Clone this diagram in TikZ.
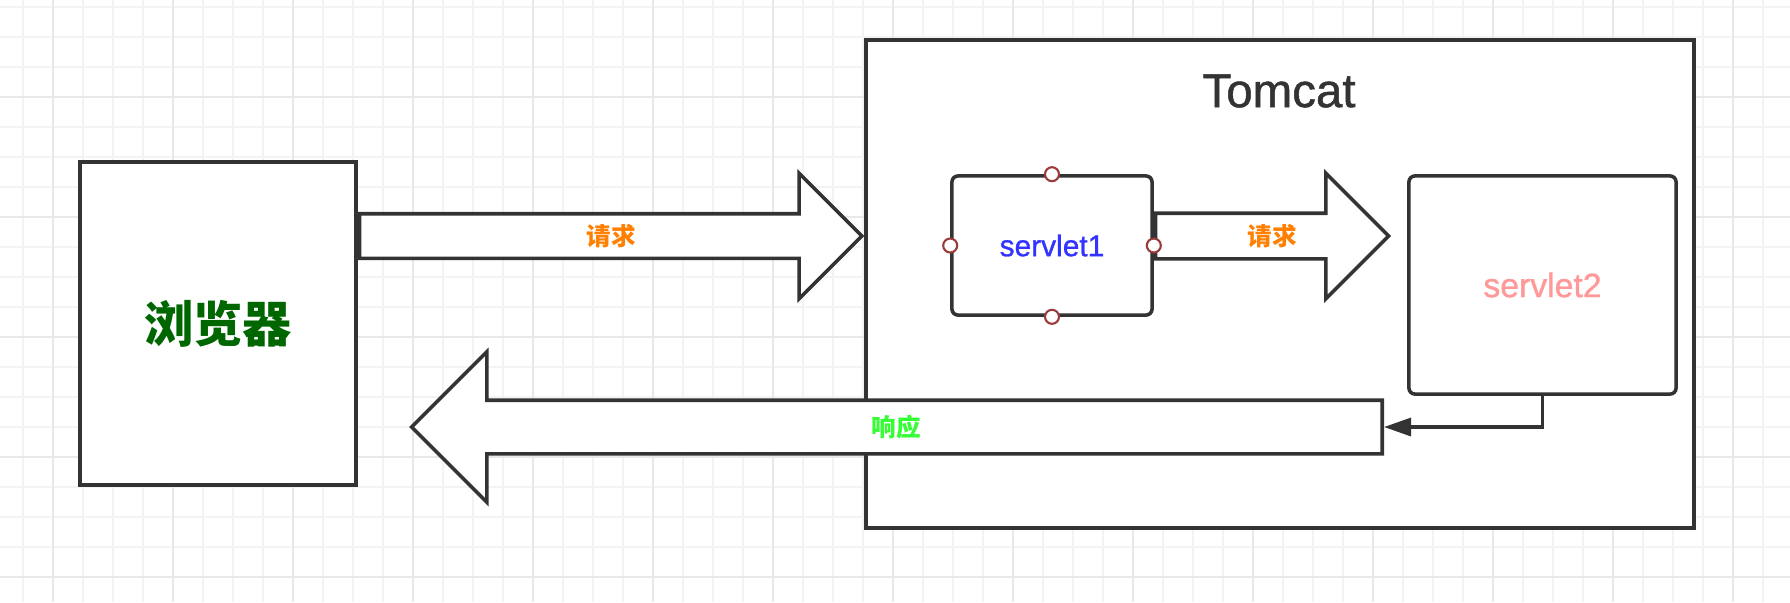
\documentclass[tikz,border=0pt]{standalone}
\usepackage{fontspec}
\setmainfont{Liberation Sans}
\newfontfamily\medium{Liberation Sans}[FakeBold=1]
\newfontfamily\cjk{Noto Sans CJK SC}
\usetikzlibrary{shapes.arrows,arrows.meta,calc}
\definecolor{edge}{HTML}{333333}
\definecolor{gridminor}{HTML}{F3F3F3}
\definecolor{gridmajor}{HTML}{E8E8E8}
\definecolor{browsergreen}{HTML}{006600}
\definecolor{reqorange}{HTML}{FF8000}
\definecolor{respgreen}{HTML}{33FF33}
\definecolor{sblue}{HTML}{3333FF}
\definecolor{spink}{HTML}{FF9999}
\definecolor{portred}{HTML}{9A3B3B}
\tikzset{
  box/.style={draw=edge, line width=1pt, fill=white, inner sep=0pt},
  rbox/.style={box, rounded corners=0.06cm},
  port/.style={circle, draw=portred, fill=white, line width=0.6pt, minimum size=0.14cm, inner sep=0pt},
  bigarrow/.style={single arrow, draw=edge, line width=1pt, fill=white, single arrow tip angle=90,
    minimum width=1pt, text height=0.2cm, text depth=0.03cm, inner xsep=0.1cm},
  lbl/.style={font=\cjk\bfseries\fontsize{7pt}{8pt}\selectfont},
  conn/.style={draw=edge, line width=0.9pt, -{Triangle[length=0.27cm,width=0.18cm]}}
}
\begin{document}
\begin{tikzpicture}[x=0.01cm, y=-0.01cm]
  \useasboundingbox (0,0) rectangle (1790,602);
  % grid
  \foreach \x in {23,53,...,1790} \draw[gridminor, line width=0.6pt] (\x,0) -- (\x,602);
  \foreach \y in {6.7,36.7,...,602} \draw[gridminor, line width=0.6pt] (0,\y) -- (1790,\y);
  \foreach \x in {53,173,...,1790} \draw[gridmajor, line width=0.6pt] (\x,0) -- (\x,602);
  \foreach \y in {96.7,216.7,...,602} \draw[gridmajor, line width=0.6pt] (0,\y) -- (1790,\y);
  % boxes
  \node[box, minimum width=8.28cm, minimum height=4.88cm] (tomcat) at (1280,284) {};
  \node[text=edge, font=\medium\fontsize{13.5pt}{15pt}\selectfont] (title) at (1279,91) {Tomcat};
  \node[box, minimum width=2.76cm, minimum height=3.23cm, text=browsergreen,
    font=\cjk\bfseries\fontsize{14pt}{16pt}\selectfont] (browser) at (218,323.5) {浏览器};
  \node[rbox, minimum width=2cm, minimum height=1.39cm, text=sblue,
    font=\medium\fontsize{8.5pt}{10pt}\selectfont] (s1) at (1052,245.5) {servlet1};
  \node[rbox, minimum width=2.67cm, minimum height=2.18cm, text=spink,
    font=\medium\fontsize{9.6pt}{11pt}\selectfont] (s2) at (1542.5,285) {servlet2};
  % block arrows (label in the middle, tail to tip)
  \node[bigarrow, minimum height=5.02cm, inner ysep=0.09cm, single arrow head extend=0.405cm,
    anchor=tail] (req1) at (browser.east |- 0,236) {};
  \node[lbl, text=reqorange] (req1-lbl) at ($(req1.tail)!0.5!(req1.tip)$) {请求};
  \node[bigarrow, minimum height=2.33cm, inner ysep=0.095cm, single arrow head extend=0.4cm,
    anchor=tail] (req2) at (s1.east |- req1.tail) {};
  \node[lbl, text=reqorange] (req2-lbl) at ($(req2.tail)!0.5!(req2.tip)$) {请求};
  \node[bigarrow, shape border rotate=180, minimum height=9.7cm, inner ysep=0.135cm,
    single arrow head extend=0.485cm, anchor=tail] (resp) at (1384,427) {};
  \node[lbl, text=respgreen] (resp-lbl) at ($(resp.tail)!0.5!(resp.tip)$) {响应};
  % return line
  \draw[conn] (s2.south) |- (resp.tail);
  % ports
  \foreach \a in {north,east,south,west} \node[port] (s1-\a) at (s1.\a) {};
\end{tikzpicture}
\end{document}
